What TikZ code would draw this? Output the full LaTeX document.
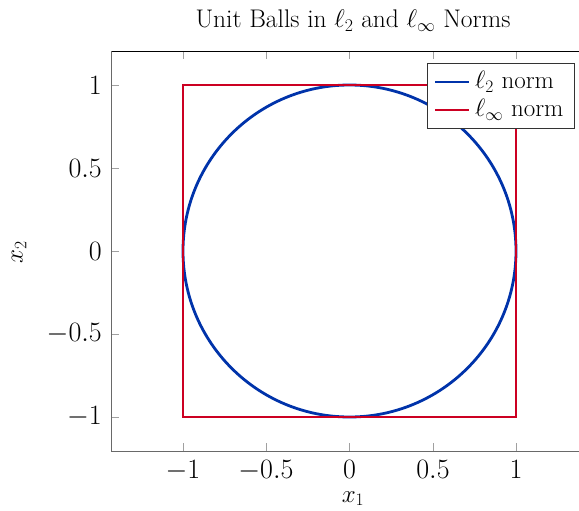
\documentclass[tikz,border=0pt]{standalone}
\usepackage{amsmath}
\usepackage{fix-cm}
\definecolor{lblue}{RGB}{0,51,170}
\definecolor{lred}{RGB}{204,0,34}
\definecolor{axgray}{RGB}{105,105,105}
\definecolor{tickgray}{RGB}{160,160,160}
\begin{document}
\begin{tikzpicture}[x=1pt,y=-1pt,
  ticklab/.style={font=\fontsize{28}{33}\selectfont, inner sep=0pt},
  axlab/.style={font=\fontsize{25}{29}\selectfont, inner sep=0pt},
  leglab/.style={font=\fontsize{25}{29}\selectfont, inner sep=0pt, anchor=west},
  tickline/.style={tickgray, line width=0.9pt},
  curve/.style={line width=2.8pt}]
\useasboundingbox (0,0) rectangle (579,511);
% axis frame
\coordinate (tl) at (111,51.5);
\coordinate (tr) at (580,51.5);
\coordinate (bl) at (111,451);
\coordinate (br) at (580,451);
% ticks
\foreach \xv/\px in {-1/183,-0.5/266,0/349.5,0.5/433,1/516}{
  \draw[tickline] (\px,451) -- (\px,443);
  \draw[tickline] (\px,51.5) -- (\px,59.5);
}
\foreach \py in {85,168,251,334,417}{
  \draw[tickline] (111,\py) -- (119,\py);
}
\draw[black, line width=1pt] (tl) -- (tr);
\draw[axgray, line width=1pt] (tl) -- (bl) -- (br);
% tick labels
\node[ticklab, anchor=base] (xl1) at (183,478) {$-1$};
\node[ticklab, anchor=base] (xl2) at (266,478) {$-0.5$};
\node[ticklab, anchor=base] (xl3) at (349.5,478) {$0$};
\node[ticklab, anchor=base] (xl4) at (433,478) {$0.5$};
\node[ticklab, anchor=base] (xl5) at (516,478) {$1$};
\node[ticklab, anchor=east] (yl1) at (102,85) {$1$};
\node[ticklab, anchor=east] (yl2) at (102,168) {$0.5$};
\node[ticklab, anchor=east] (yl3) at (102,251) {$0$};
\node[ticklab, anchor=east] (yl4) at (102,334) {$-0.5$};
\node[ticklab, anchor=east] (yl5) at (102,417) {$-1$};
% axis labels
\node[axlab, anchor=base] (xlab) at (353,502) {$x_1$};
\node[axlab, rotate=90] (ylab) at (19,252) {$x_2$};
% title
\node[font=\fontsize{25.5}{30}\selectfont, inner sep=0pt, anchor=base] (title) at (353,28) {Unit Balls in $\ell_2$ and $\ell_\infty$ Norms};
% data
\begin{scope}[shift={(349.5,251)}, x=166.5pt, y=166pt]
  \coordinate (o) at (0,0);
  \coordinate (sqa) at (-1,-1);
  \coordinate (sqb) at (1,1);
  \draw[lblue, curve] (o) circle [x radius=1, y radius=1];
  \draw[lred, curve] (sqa) rectangle (sqb);
\end{scope}
% legend
\node[draw=black!80, fill=white, line width=0.8pt, minimum width=147pt, minimum height=65pt, anchor=north west, inner sep=0pt] (legend) at (427,63) {};
\coordinate (la1) at (435,82);
\coordinate (lb1) at (469,82);
\coordinate (la2) at (435,110);
\coordinate (lb2) at (469,110);
\draw[lblue, curve] (la1) -- (lb1);
\draw[lred, curve] (la2) -- (lb2);
\node[leglab] (leg1) at (475,82) {$\ell_2$ norm};
\node[leglab] (leg2) at (475,110) {$\ell_\infty$ norm};
\end{tikzpicture}
\end{document}
